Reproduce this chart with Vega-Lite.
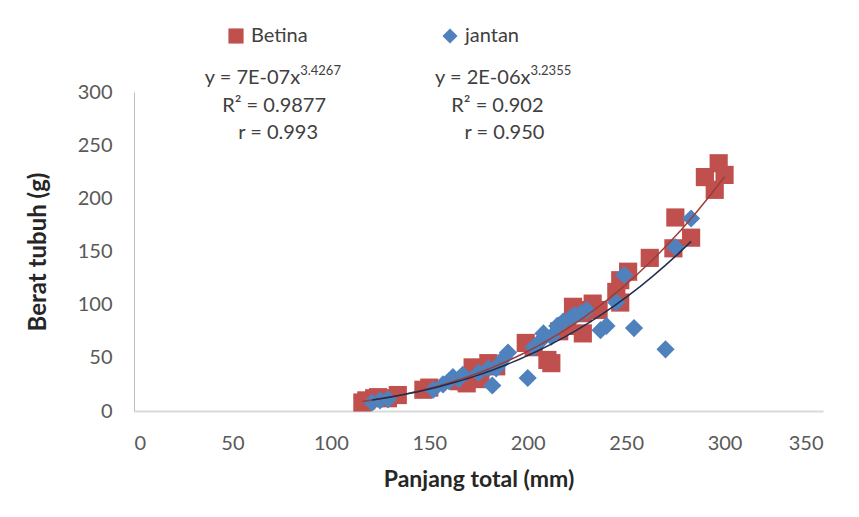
{
  "$schema": "https://vega.github.io/schema/vega-lite/v6.json",
  "width": 689,
  "height": 319,
  "autosize": {"type": "none"},
  "padding": {"left": 134, "top": 92, "right": 36, "bottom": 106},
  "background": "white",
  "config": {
    "view": {"stroke": null},
    "font": "Lato",
    "axis": {"grid": false, "ticks": false, "tickSize": 0, "labelFont": "Lato", "labelFontSize": 20, "labelColor": "#595959", "titleFont": "Lato", "titleFontWeight": "bold", "titleColor": "#262626"}
  },
  "datasets": {
    "points": [
      {"sex": "Betina", "tl": 116, "bw": 8},
      {"sex": "Betina", "tl": 118, "bw": 10},
      {"sex": "Betina", "tl": 122, "bw": 12},
      {"sex": "Betina", "tl": 124, "bw": 13},
      {"sex": "Betina", "tl": 129, "bw": 12},
      {"sex": "Betina", "tl": 134, "bw": 15},
      {"sex": "Betina", "tl": 147, "bw": 20},
      {"sex": "Betina", "tl": 150, "bw": 22},
      {"sex": "Betina", "tl": 165, "bw": 28},
      {"sex": "Betina", "tl": 169, "bw": 26},
      {"sex": "Betina", "tl": 172, "bw": 41},
      {"sex": "Betina", "tl": 176, "bw": 30},
      {"sex": "Betina", "tl": 180, "bw": 45},
      {"sex": "Betina", "tl": 184, "bw": 42},
      {"sex": "Betina", "tl": 199, "bw": 64},
      {"sex": "Betina", "tl": 203, "bw": 60},
      {"sex": "Betina", "tl": 210, "bw": 48},
      {"sex": "Betina", "tl": 212, "bw": 45},
      {"sex": "Betina", "tl": 216, "bw": 75},
      {"sex": "Betina", "tl": 220, "bw": 80},
      {"sex": "Betina", "tl": 223, "bw": 98},
      {"sex": "Betina", "tl": 226, "bw": 95},
      {"sex": "Betina", "tl": 228, "bw": 92},
      {"sex": "Betina", "tl": 228, "bw": 73},
      {"sex": "Betina", "tl": 233, "bw": 101},
      {"sex": "Betina", "tl": 236, "bw": 95},
      {"sex": "Betina", "tl": 245, "bw": 112},
      {"sex": "Betina", "tl": 247, "bw": 102},
      {"sex": "Betina", "tl": 247, "bw": 123},
      {"sex": "Betina", "tl": 251, "bw": 131},
      {"sex": "Betina", "tl": 262, "bw": 144},
      {"sex": "Betina", "tl": 274, "bw": 153},
      {"sex": "Betina", "tl": 275, "bw": 182},
      {"sex": "Betina", "tl": 283, "bw": 163},
      {"sex": "Betina", "tl": 290, "bw": 220},
      {"sex": "Betina", "tl": 295, "bw": 208},
      {"sex": "Betina", "tl": 297, "bw": 233},
      {"sex": "Betina", "tl": 300, "bw": 222},
      {"sex": "jantan", "tl": 121, "bw": 8},
      {"sex": "jantan", "tl": 125, "bw": 10},
      {"sex": "jantan", "tl": 129, "bw": 11},
      {"sex": "jantan", "tl": 152, "bw": 20},
      {"sex": "jantan", "tl": 157, "bw": 25},
      {"sex": "jantan", "tl": 160, "bw": 28},
      {"sex": "jantan", "tl": 162, "bw": 32},
      {"sex": "jantan", "tl": 165, "bw": 30},
      {"sex": "jantan", "tl": 167, "bw": 34},
      {"sex": "jantan", "tl": 175, "bw": 36},
      {"sex": "jantan", "tl": 180, "bw": 40},
      {"sex": "jantan", "tl": 182, "bw": 24},
      {"sex": "jantan", "tl": 184, "bw": 40},
      {"sex": "jantan", "tl": 186, "bw": 45},
      {"sex": "jantan", "tl": 188, "bw": 50},
      {"sex": "jantan", "tl": 190, "bw": 55},
      {"sex": "jantan", "tl": 200, "bw": 31},
      {"sex": "jantan", "tl": 203, "bw": 60},
      {"sex": "jantan", "tl": 206, "bw": 65},
      {"sex": "jantan", "tl": 208, "bw": 73},
      {"sex": "jantan", "tl": 212, "bw": 70},
      {"sex": "jantan", "tl": 215, "bw": 80},
      {"sex": "jantan", "tl": 218, "bw": 84},
      {"sex": "jantan", "tl": 222, "bw": 88},
      {"sex": "jantan", "tl": 224, "bw": 90},
      {"sex": "jantan", "tl": 227, "bw": 92},
      {"sex": "jantan", "tl": 230, "bw": 95},
      {"sex": "jantan", "tl": 237, "bw": 76},
      {"sex": "jantan", "tl": 240, "bw": 80},
      {"sex": "jantan", "tl": 245, "bw": 102},
      {"sex": "jantan", "tl": 249, "bw": 128},
      {"sex": "jantan", "tl": 254, "bw": 78},
      {"sex": "jantan", "tl": 270, "bw": 58},
      {"sex": "jantan", "tl": 275, "bw": 154},
      {"sex": "jantan", "tl": 283, "bw": 181}
    ],
    "labels": [
      {"kind": "eq", "text": "y = 7E-07x", "tl": 84.4, "bw": 313},
      {"kind": "sup", "text": "3.4267", "tl": 84.4, "bw": 313},
      {"kind": "mid", "text": "R² = 0.9877", "tl": 71.2, "bw": 286.7},
      {"kind": "mid", "text": "r = 0.993", "tl": 73.2, "bw": 261.3},
      {"kind": "eq", "text": "y = 2E-06x", "tl": 201.4, "bw": 313},
      {"kind": "sup", "text": "3.2355", "tl": 201.4, "bw": 313},
      {"kind": "mid", "text": "R² = 0.902", "tl": 184.6, "bw": 286.7},
      {"kind": "mid", "text": "r = 0.950", "tl": 188.2, "bw": 261.3}
    ]
  },
  "data": {"name": "points"},
  "layer": [
    {
      "mark": {"type": "point", "filled": true, "opacity": 1, "size": 330, "strokeWidth": 0},
      "encoding": {
        "x": {"field": "tl", "type": "quantitative", "scale": {"domain": [0, 350], "nice": false}, "axis": {"values": [0, 50, 100, 150, 200, 250, 300, 350], "title": "Panjang total (mm)", "titleFontSize": 23, "labelPadding": 22, "titlePadding": 15, "domainColor": "#d9d9d9", "domainWidth": 2}},
        "y": {"field": "bw", "type": "quantitative", "scale": {"domain": [0, 300], "nice": false}, "axis": {"values": [0, 50, 100, 150, 200, 250, 300], "title": "Berat tubuh (g)", "titleFontSize": 24, "labelPadding": 22, "titlePadding": 27, "domainColor": "#bfbfbf", "domainWidth": 1}},
        "color": {"field": "sex", "type": "nominal", "scale": {"domain": ["Betina", "jantan"], "range": ["#C0504D", "#4F81BD"]}, "legend": {"title": null, "orient": "none", "legendX": 92, "legendY": -66, "direction": "horizontal", "columnPadding": 132, "symbolSize": 230, "symbolStrokeWidth": 0, "labelFont": "Lato", "labelFontSize": 20, "labelColor": "#404040", "labelOffset": 5}},
        "shape": {"field": "sex", "type": "nominal", "scale": {"domain": ["Betina", "jantan"], "range": ["square", "diamond"]}, "legend": {"title": null, "orient": "none", "legendX": 92, "legendY": -66, "direction": "horizontal", "columnPadding": 132, "symbolSize": 230, "symbolStrokeWidth": 0, "labelFont": "Lato", "labelFontSize": 20, "labelColor": "#404040", "labelOffset": 5}}
      }
    },
    {
      "transform": [{"filter": "datum.sex === 'Betina'"}, {"regression": "bw", "on": "tl", "method": "pow", "extent": [116, 300]}],
      "mark": {"type": "line", "color": "#9b3d3a", "strokeWidth": 1.5},
      "encoding": {"x": {"field": "tl", "type": "quantitative"}, "y": {"field": "bw", "type": "quantitative"}}
    },
    {
      "transform": [{"filter": "datum.sex === 'jantan'"}, {"regression": "bw", "on": "tl", "method": "pow", "extent": [121, 283]}],
      "mark": {"type": "line", "color": "#1f2d4d", "strokeWidth": 1.5},
      "encoding": {"x": {"field": "tl", "type": "quantitative"}, "y": {"field": "bw", "type": "quantitative"}}
    },
    {
      "data": {"name": "labels"},
      "transform": [{"filter": "datum.kind === 'eq'"}],
      "mark": {"type": "text", "align": "right", "baseline": "middle", "fontSize": 20, "color": "#404040", "font": "Lato"},
      "encoding": {"x": {"field": "tl", "type": "quantitative"}, "y": {"field": "bw", "type": "quantitative"}, "text": {"field": "text"}}
    },
    {
      "data": {"name": "labels"},
      "transform": [{"filter": "datum.kind === 'sup'"}],
      "mark": {"type": "text", "align": "left", "baseline": "middle", "fontSize": 13, "dy": -7, "color": "#404040", "font": "Lato"},
      "encoding": {"x": {"field": "tl", "type": "quantitative"}, "y": {"field": "bw", "type": "quantitative"}, "text": {"field": "text"}}
    },
    {
      "data": {"name": "labels"},
      "transform": [{"filter": "datum.kind === 'mid'"}],
      "mark": {"type": "text", "align": "center", "baseline": "middle", "fontSize": 20, "color": "#404040", "font": "Lato"},
      "encoding": {"x": {"field": "tl", "type": "quantitative"}, "y": {"field": "bw", "type": "quantitative"}, "text": {"field": "text"}}
    }
  ]
}
